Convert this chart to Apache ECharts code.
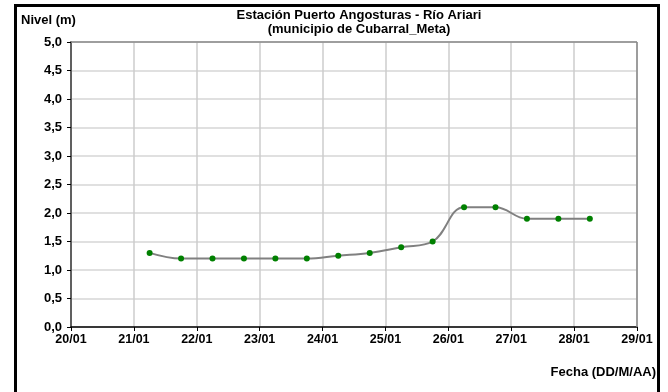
<!DOCTYPE html>
<html>
<head>
<meta charset="utf-8">
<script src="https://cdn.jsdelivr.net/npm/echarts@6/dist/echarts.min.js"></script>
<style>
  html, body { margin: 0; padding: 0; background: #fff; }
  #chart { width: 668px; height: 392px; }
</style>
</head>
<body>
<div id="chart"></div>
<script>
// dia del mes (enero), fraccion = hora del dia
const dias = [21.25, 21.75, 22.25, 22.75, 23.25, 23.75, 24.25, 24.75, 25.25, 25.75, 26.25, 26.75, 27.25, 27.75, 28.25];
const nivel = [1.3, 1.2, 1.2, 1.2, 1.2, 1.2, 1.25, 1.3, 1.4, 1.5, 2.1, 2.1, 1.9, 1.9, 1.9];
const titulo = 'Estación Puerto Angosturas - Río Ariari\n(municipio de Cubarral_Meta)';
const ejeY = 'Nivel (m)';
const ejeX = 'Fecha (DD/M/AA)';

let myChart = echarts.init(document.getElementById('chart'));
let datos = [];
for (let i = 0; i < dias.length; i++) {
  datos[i] = [dias[i], nivel[i]];
}
const fuente = 'Liberation Sans, Arial, sans-serif';

myChart.setOption({
  animation: false,
  backgroundColor: '#fff',
  title: {
    text: titulo,
    left: 354,
    top: 4,
    textAlign: 'center',
    textStyle: { fontFamily: fuente, fontSize: 13, fontWeight: 'bold', color: '#000', lineHeight: 13.5 }
  },
  graphic: [
    {
      type: 'rect',
      shape: { x: 15.5, y: 5.5, width: 643, height: 400 },
      style: { fill: 'none', stroke: '#000', lineWidth: 3 }
    },
    {
      type: 'text', left: 21, top: 14,
      style: { text: ejeY, font: 'bold 13px ' + fuente, fill: '#000' }
    },
    {
      type: 'text', right: 12, top: 366,
      style: { text: ejeX, font: 'bold 13px ' + fuente, fill: '#000' }
    }
  ],
  grid: { left: 71, right: 31, top: 42, bottom: 65 },
  xAxis: {
    type: 'value',
    min: 20,
    max: 29,
    interval: 1,
    axisLine: { show: true, lineStyle: { color: '#000', width: 1.5 } },
    axisTick: { show: true, length: 4, lineStyle: { color: '#000' } },
    axisLabel: {
      margin: 6,
      fontFamily: fuente, fontSize: 12.5, fontWeight: 'bold', color: '#000',
      formatter: v => v + '/01'
    },
    splitLine: { show: true, lineStyle: { color: '#cccccc', width: 1.5 } }
  },
  yAxis: {
    type: 'value',
    min: 0,
    max: 5,
    interval: 0.5,
    axisLine: { show: true, lineStyle: { color: '#606060', width: 2 } },
    axisTick: { show: true, length: 4, lineStyle: { color: '#000' } },
    axisLabel: {
      margin: 9,
      fontFamily: fuente, fontSize: 13, fontWeight: 'bold', color: '#000',
      formatter: v => v.toFixed(1).replace('.', ',')
    },
    splitLine: { show: true, lineStyle: { color: '#d6d6d6', width: 1.5 } }
  },
  series: [
    {
      type: 'line',
      data: datos,
      smooth: 0.4,
      symbol: 'circle',
      symbolSize: 6,
      lineStyle: { color: '#808080', width: 2 },
      itemStyle: { color: '#008000' }
    },
    {
      // borde del area de trazado
      type: 'line',
      data: [],
      markLine: {
        silent: true, symbol: 'none', label: { show: false },
        lineStyle: { color: '#888', type: 'solid', width: 1.5 },
        data: [
          [{ coord: [20, 5] }, { coord: [29, 5] }],
          [{ coord: [29, 0] }, { coord: [29, 5] }]
        ]
      }
    }
  ]
});
</script>
</body>
</html>
